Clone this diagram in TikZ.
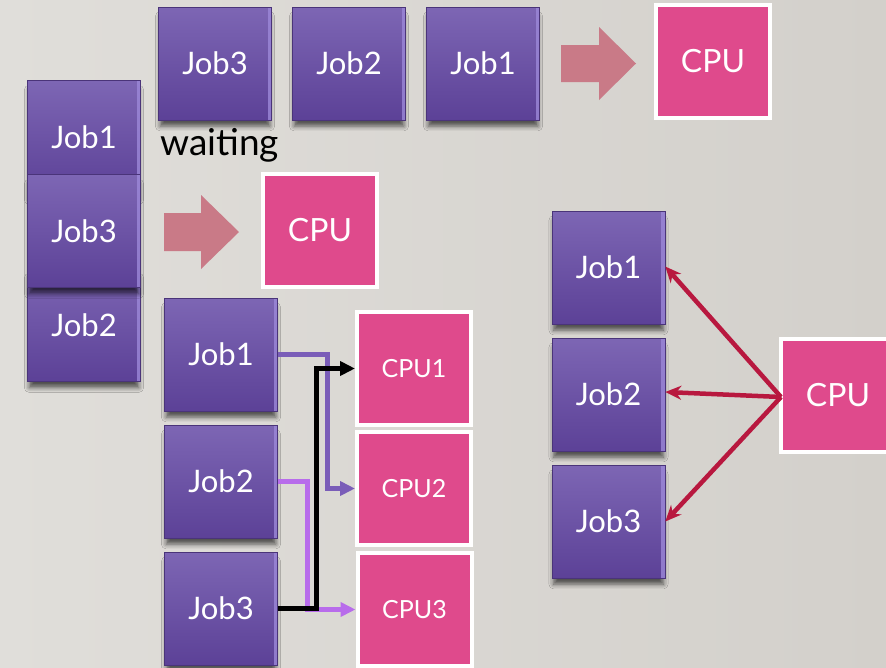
\documentclass[tikz,border=0pt]{standalone}
\usepackage{fontspec}
\setmainfont{Lato}
\usetikzlibrary{arrows.meta,shadows.blur,calc}
\definecolor{bgL}{HTML}{E0DEDA}
\definecolor{bgR}{HTML}{D3D0CB}
\definecolor{jobTop}{HTML}{7D66B4}
\definecolor{jobBot}{HTML}{5C4197}
\definecolor{jobEdge}{HTML}{9C88D8}
\definecolor{cpuPink}{HTML}{DF4A8C}
\definecolor{blockArrow}{HTML}{C97A87}
\definecolor{linkA}{HTML}{7A5DB8}
\definecolor{linkB}{HTML}{B86CEB}
\definecolor{crim}{HTML}{B8183F}
\tikzset{
  x=1pt, y=-1pt,
  job/.style={minimum width=113pt, minimum height=113pt, inner sep=0pt,
    top color=jobTop, bottom color=jobBot, draw=jobBot!80!black, line width=0.6pt,
    text=white, font=\fontsize{31}{31}\selectfont,
    blur shadow={shadow xshift=0pt, shadow yshift=-8pt, shadow scale=0.97, shadow blur radius=5pt, shadow opacity=65},
    path picture={\fill[jobEdge,opacity=.8] ([xshift=-4pt]path picture bounding box.north east) rectangle (path picture bounding box.south east);}},
  cpu/.style={minimum width=114pt, minimum height=113pt, inner sep=0pt,
    fill=cpuPink, draw=white, line width=4pt, text=white, font=\fontsize{32}{32}\selectfont},
  cpusmall/.style={cpu, font=\fontsize{25}{25}\selectfont},
  link/.style={line width=5pt, -{Triangle[length=15pt,width=14pt]}},
  spoke/.style={crim, line width=4.5pt, -{Stealth[length=16pt,width=14pt]}}
}
\begin{document}
\begin{tikzpicture}
\useasboundingbox (0,0) rectangle (886,667);
\clip (0,0) rectangle (886,667);
\shade[left color=bgL, right color=bgR] (0,0) rectangle (886,667);
% top row
\node[job] (t3) at (215,63.5) {Job3};
\node[job] (t2) at (349,63.5) {Job2};
\node[job] (t1) at (483,63.5) {Job1};
\fill[blockArrow] (561,45) -- (599,45) -- (599,27) -- (636,63.5) -- (599,100) -- (599,82) -- (561,82) -- cycle;
\node[cpu] (ctop) at (713,61.5) {CPU};
% left stack
\node[job] (l1) at (84,137) {Job1};
\node[job] (l2) at (84,325) {Job2};
\node[job] (l3) at (84,231) {Job3};
\node[anchor=base west, inner sep=0pt, font=\fontsize{37}{37}\selectfont] (wait) at (160,155) {waiting};
\fill[blockArrow] (164,213) -- (201,213) -- (201,195) -- (239,232) -- (201,269) -- (201,251) -- (164,251) -- cycle;
\node[cpu] (cmid) at (320,230) {CPU};
% bottom
\node[job] (b1) at (221,354.5) {Job1};
\node[job] (b2) at (221,481.5) {Job2};
\node[job] (b3) at (221,608.5) {Job3};
\node[cpusmall] (c1) at (414,368.5) {CPU1};
\node[cpusmall] (c2) at (414,488.5) {CPU2};
\node[cpusmall] (c3) at (414.5,609.5) {CPU3};
\draw[link, linkA] (b1.east) -- ++(50,0) |- (c2.west);
\draw[link, linkB] (b2.east) -- ++(30,0) |- (c3.west);
\draw[link, black] (b3.east) -- ++(39,0) |- (c1.west);
% right
\node[job] (r1) at (608.5,267.5) {Job1};
\node[job] (r2) at (608.5,394.5) {Job2};
\node[job] (r3) at (608.5,521.5) {Job3};
\node[cpu] (cr) at (838,395.5) {CPU};
\coordinate (hub) at (781,397);
\draw[spoke] (hub) -- ([yshift=1pt]r1.east);
\draw[spoke] (hub) -- ([yshift=2.5pt]r2.east);
\draw[spoke] (hub) -- (r3.east);
\end{tikzpicture}
\end{document}
